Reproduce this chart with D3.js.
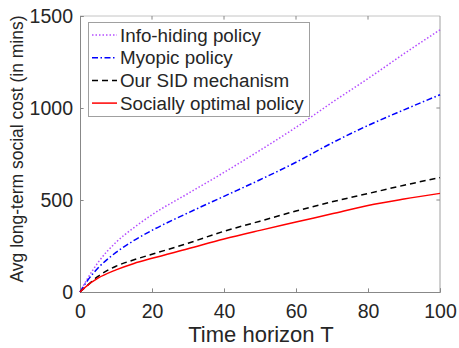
<!DOCTYPE html>
<html>
<head>
<meta charset="utf-8">
<script src="https://cdn.jsdelivr.net/npm/d3@7"></script>
<style>
  body { margin: 0; background: #fff; }
  svg text { font-family: "Liberation Sans", Arial, sans-serif; fill: #262626; }
</style>
</head>
<body>
<div id="chart"></div>
<script>
// time horizon values
const horizons = [0, 2, 5, 10, 15, 20, 30, 40, 50, 60, 70, 80, 90, 100];
const infoHiding = [0, 70, 160, 270, 350, 420, 535, 650, 770, 895, 1030, 1160, 1295, 1425];
const myopic     = [0, 60, 130, 215, 280, 335, 430, 520, 610, 705, 810, 905, 990, 1072];
const ourSID     = [0, 35, 85, 140, 175, 205, 265, 330, 385, 440, 490, 535, 580, 622];
const socialOpt  = [0, 35, 75, 120, 155, 183, 235, 288, 335, 380, 425, 470, 505, 536];
const seriesNames = ["Info-hiding policy", "Myopic policy", "Our SID mechanism", "Socially optimal policy"];
const xTicks = [0, 20, 40, 60, 80, 100];
const yTicks = [0, 500, 1000, 1500];

const series = [
  { name: seriesNames[0], values: infoHiding, color: "#b44dff", dash: "1.5,2" },
  { name: seriesNames[1], values: myopic, color: "#0000ff", dash: "6,2.5,1.5,2.5" },
  { name: seriesNames[2], values: ourSID, color: "#000000", dash: "6,4" },
  { name: seriesNames[3], values: socialOpt, color: "#ff0000", dash: null }
];

const W = 459, H = 348;
const mLeft = 80, mRight = 440, mTop = 16, mBottom = 292;

const svg = d3.select("#chart").append("svg").attr("width", W).attr("height", H);

const x = d3.scaleLinear().domain([0, 100]).range([mLeft, mRight]);
const y = d3.scaleLinear().domain([0, 1500]).range([mBottom, mTop]);

// box
svg.append("line").attr("x1", mLeft).attr("x2", mRight).attr("y1", mTop).attr("y2", mTop)
  .attr("stroke", "#c4c4c4");
svg.append("line").attr("x1", mRight).attr("x2", mRight).attr("y1", mTop).attr("y2", mBottom)
  .attr("stroke", "#a0a0a0");

// axes, ticks pointing inwards
const xAxis = svg.append("g").attr("transform", `translate(0,${mBottom})`)
  .call(d3.axisBottom(x).tickValues(xTicks).tickFormat(d3.format("d")).tickSize(-3.6).tickPadding(12));
const yAxis = svg.append("g").attr("transform", `translate(${mLeft},0)`)
  .call(d3.axisLeft(y).tickValues(yTicks).tickFormat(d3.format("d")).tickSize(-3.6).tickPadding(7));
[xAxis, yAxis].forEach(g => {
  g.select(".domain").attr("stroke", "#888");
  g.selectAll(".tick line").attr("stroke", "#888");
  g.selectAll(".tick text").attr("font-size", 19.5).attr("fill", "#262626")
    .attr("font-family", "Liberation Sans, Arial, sans-serif");
});
// top and right ticks
svg.append("g").selectAll("line").data(xTicks.slice(1, -1)).join("line")
  .attr("x1", d => x(d)).attr("x2", d => x(d)).attr("y1", mTop).attr("y2", mTop + 3.6)
  .attr("stroke", "#888");
svg.append("g").selectAll("line").data(yTicks.slice(1, -1)).join("line")
  .attr("x1", mRight).attr("x2", mRight - 3.6).attr("y1", d => y(d)).attr("y2", d => y(d))
  .attr("stroke", "#888");

// lines
const line = d3.line().x((d, i) => x(horizons[i])).y(d => y(d)).curve(d3.curveMonotoneX);
series.forEach(s => {
  svg.append("path").datum(s.values)
    .attr("d", line)
    .attr("fill", "none")
    .attr("stroke", s.color)
    .attr("stroke-width", 1.5)
    .attr("stroke-dasharray", s.dash);
});

// axis labels
svg.append("text").attr("x", (mLeft + mRight) / 2 + 1).attr("y", 342)
  .attr("text-anchor", "middle").attr("font-size", 22).text("Time horizon T");
svg.append("text").attr("transform", `translate(23,149) rotate(-90)`)
  .attr("text-anchor", "middle").attr("font-size", 17.5)
  .text("Avg long-term social cost (in mins)");

// legend
const lg = svg.append("g");
lg.append("rect").attr("x", 88.5).attr("y", 22.5).attr("width", 221).attr("height", 94)
  .attr("fill", "#fff").attr("stroke", "#a0a0a0");
series.forEach((s, i) => {
  const cy = 35 + i * 22.7;
  lg.append("line").attr("x1", 92).attr("x2", 117).attr("y1", cy).attr("y2", cy)
    .attr("stroke", s.color).attr("stroke-width", 1.5).attr("stroke-dasharray", s.dash);
  lg.append("text").attr("x", 120).attr("y", cy + 6.5).attr("font-size", 18.8).text(s.name);
});
</script>
</body>
</html>
